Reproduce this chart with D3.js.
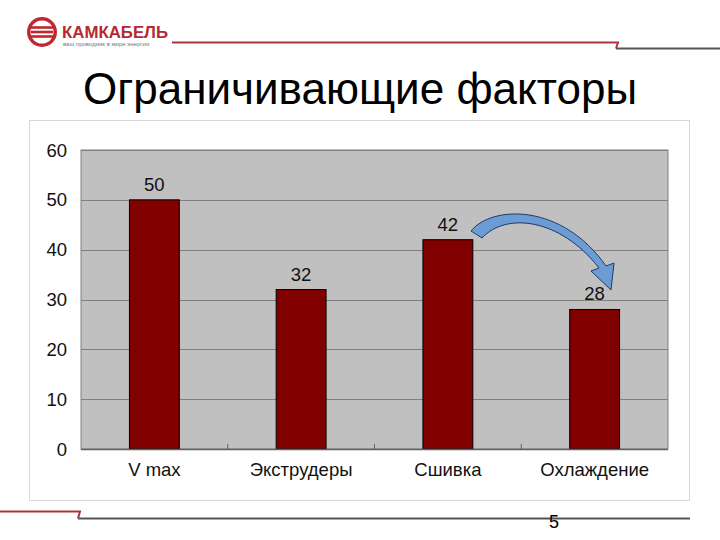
<!DOCTYPE html>
<html>
<head>
<meta charset="utf-8">
<script src="https://cdn.jsdelivr.net/npm/d3@7"></script>
<style>
    body { margin: 0; background: #fff; }
    svg { display: block; font-family: "Liberation Sans", Arial, sans-serif; }
    .title { font-size: 44px; fill: #000; }
    .tick-y, .tick-x, .val { font-size: 18.5px; fill: #111; }
</style>
</head>
<body>
<div id="chart"></div>
<script>
    const categories = ["V max", "Экструдеры", "Сшивка", "Охлаждение"];
    const values = [50, 32, 42, 28];
    const yTicks = [0, 10, 20, 30, 40, 50, 60];

    (function () {
        const width = 720, height = 540;
        const svg = d3.select("#chart").append("svg")
            .attr("width", width)
            .attr("height", height);

        // header: logo + lines
        const logo = svg.append("g");
        logo.append("circle").attr("cx", 42).attr("cy", 32).attr("r", 15).attr("fill", "#c1272d");
        logo.append("circle").attr("cx", 42).attr("cy", 32).attr("r", 11.5).attr("fill", "#fff");
        [27.5, 32, 36.5].forEach(function (y) {
            logo.append("rect").attr("x", 31).attr("y", y - 1.3).attr("width", 22).attr("height", 2.6).attr("fill", "#c1272d");
        });
        logo.append("text").attr("x", 62).attr("y", 37.5)
            .style("font-size", "17px").style("font-weight", "bold").attr("fill", "#b52a31")
            .attr("textLength", 106).attr("lengthAdjust", "spacingAndGlyphs")
            .text("КАМКАБЕЛЬ");
        logo.append("text").attr("x", 63).attr("y", 46)
            .style("font-size", "6px").attr("fill", "#777")
            .text("ваш проводник в мире энергии");

        svg.append("path").attr("d", "M172,42.5 L618,42.5 L616,48.5")
            .attr("fill", "none").attr("stroke", "#a8343c").attr("stroke-width", 2);
        svg.append("path").attr("d", "M616,48.5 L720,48.5")
            .attr("fill", "none").attr("stroke", "#555").attr("stroke-width", 2);

        svg.append("text").attr("class", "title")
            .attr("x", 360).attr("y", 104).attr("text-anchor", "middle")
            .text("Ограничивающие факторы");

        // chart frame
        svg.append("rect").attr("x", 29.5).attr("y", 120.5).attr("width", 660).attr("height", 380)
            .attr("fill", "#fff").attr("stroke", "#d9d9d9");

        const plot = {left: 81, right: 668, top: 150, bottom: 449};

        const x = d3.scaleBand()
            .domain(categories)
            .range([plot.left, plot.right])
            .paddingInner(0.66)
            .paddingOuter(0.33);

        const y = d3.scaleLinear()
            .domain([0, 60])
            .range([plot.bottom, plot.top]);

        svg.append("rect")
            .attr("x", plot.left).attr("y", plot.top)
            .attr("width", plot.right - plot.left).attr("height", plot.bottom - plot.top)
            .attr("fill", "#c0c0c0").attr("stroke", "#808080");

        svg.append("g").selectAll("line")
            .data(yTicks.slice(1))
            .join("line")
            .attr("x1", plot.left).attr("x2", plot.right)
            .attr("y1", function (d) { return Math.round(y(d)) + 0.5; })
            .attr("y2", function (d) { return Math.round(y(d)) + 0.5; })
            .attr("stroke", "#808080");

        svg.append("g").selectAll("text")
            .data(yTicks)
            .join("text")
            .attr("class", "tick-y")
            .attr("x", 67).attr("y", function (d) { return y(d) + 6.5; })
            .attr("text-anchor", "end")
            .text(function (d) { return d; });

        // bars
        svg.append("g").selectAll("rect")
            .data(values)
            .join("rect")
            .attr("x", function (d, i) { return x(categories[i]); })
            .attr("y", function (d) { return y(d); })
            .attr("width", x.bandwidth())
            .attr("height", function (d) { return y(0) - y(d); })
            .attr("fill", "#800000").attr("stroke", "#000").attr("stroke-width", 1);

        svg.append("g").selectAll("text")
            .data(values)
            .join("text")
            .attr("class", "val")
            .attr("x", function (d, i) { return x(categories[i]) + x.bandwidth() / 2; })
            .attr("y", function (d) { return y(d) - 9; })
            .attr("text-anchor", "middle")
            .text(function (d) { return d; });

        // x axis line + category ticks
        svg.append("line")
            .attr("x1", plot.left).attr("x2", plot.right)
            .attr("y1", plot.bottom + 0.5).attr("y2", plot.bottom + 0.5)
            .attr("stroke", "#606060").attr("stroke-width", 1.5);

        const step = x.step();
        svg.append("g").selectAll("line")
            .data(categories.slice(1))
            .join("line")
            .attr("x1", function (d) { return x(d) - (step - x.bandwidth()) / 2; })
            .attr("x2", function (d) { return x(d) - (step - x.bandwidth()) / 2; })
            .attr("y1", plot.bottom - 5).attr("y2", plot.bottom)
            .attr("stroke", "#606060");

        svg.append("g").selectAll("text")
            .data(categories)
            .join("text")
            .attr("class", "tick-x")
            .attr("x", function (d) { return x(d) + x.bandwidth() / 2; })
            .attr("y", 476)
            .attr("text-anchor", "middle")
            .text(function (d) { return d; });

        // curved arrow from Сшивка to Охлаждение
        svg.append("path")
            .attr("d", "M471,231 C492,205 562,203 606,266 L614,263 L611,290 L591,271 L599,268 C560,218 506,212 482,238 Z")
            .attr("fill", "#6d9bd3").attr("stroke", "#1e3a6a").attr("stroke-width", 1);

        // footer
        svg.append("path").attr("d", "M0,511.5 L80,511.5 L78,518.5")
            .attr("fill", "none").attr("stroke", "#a8343c").attr("stroke-width", 2);
        svg.append("path").attr("d", "M78,518.5 L690,518.5")
            .attr("fill", "none").attr("stroke", "#555").attr("stroke-width", 2);
        svg.append("text").attr("x", 554).attr("y", 528).attr("text-anchor", "middle")
            .style("font-size", "18px").text("5");
    })();
</script>
</body>
</html>
